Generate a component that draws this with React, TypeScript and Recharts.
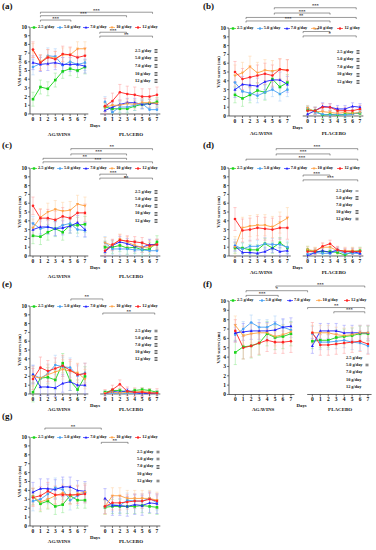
import React from 'react';
import { LineChart, Line, XAxis, YAxis, ErrorBar, ReferenceLine } from 'recharts';

const FONT = "'Liberation Serif', 'Times New Roman', serif";

const DOSES = ['2.5 g/day', '5.0 g/day', '7.0 g/day', '10 g/day', '12 g/day'];
const COLORS = ['#19d419', '#4aa3f5', '#1f1fff', '#ffa142', '#ff2424'];
const ERR_COLORS = ['#8ee88e', '#a5cff8', '#8f8fff', '#ffd09f', '#ff9a9a'];
const SHAPES = ['square', 'circle', 'triangle', 'tridown', 'circle'];
const DAYS = [0, 1, 2, 3, 4, 5, 6, 7];
const PLACEBO_SHIFT = 9.7;

// rows: 2.5, 5.0, 7.0, 10, 12 g/day ; columns: day 0..7
const aAgavins = [
  [1.7, 3.1, 2.9, 3.9, 4.9, 5.2, 5.0, 5.4],
  [5.4, 5.8, 6.7, 6.6, 5.6, 6.0, 5.7, 5.9],
  [5.9, 5.7, 5.8, 5.9, 5.7, 5.7, 5.7, 5.5],
  [7.3, 6.0, 6.6, 6.4, 6.8, 6.8, 7.5, 7.5],
  [7.4, 5.9, 6.5, 6.3, 6.9, 6.8, 6.5, 6.7],
];
const aPlacebo = [
  [0.8, 0.6, 0.6, 0.6, 0.9, 1.1, 1.2, 1.4],
  [1.4, 0.2, 0.8, 0.8, 1.0, 1.2, 0.5, 0.5],
  [0.4, 0.8, 1.1, 1.3, 1.3, 1.1, 1.2, 1.2],
  [0.8, 1.0, 1.0, 1.2, 1.1, 1.3, 1.3, 1.2],
  [0.9, 1.5, 2.5, 2.3, 2.2, 2.0, 2.0, 2.2],
];
const aAgavinsSd = [0.8, 0.9, 0.8, 0.8, 0.9];
const aPlaceboSd = [0.5, 0.6, 0.5, 0.5, 0.9];

const bAgavins = [
  [2.4, 2.0, 2.4, 2.9, 2.7, 4.2, 3.3, 3.8],
  [3.8, 2.8, 2.6, 2.3, 2.7, 3.0, 2.5, 3.0],
  [3.0, 3.6, 3.5, 3.4, 3.9, 4.1, 4.1, 3.6],
  [4.6, 4.9, 5.6, 4.9, 5.2, 5.1, 5.3, 5.2],
  [5.0, 4.2, 4.4, 4.6, 4.8, 4.6, 5.3, 5.2],
];
const bPlacebo = [
  [0.7, 0.6, 0.1, 0.2, 0.1, 0.2, 0.3, 0.3],
  [0.9, 0.4, 0.2, 0.1, 0.2, 0.1, 0.2, 0.4],
  [0.2, 0.6, 1.1, 1.0, 0.8, 0.8, 1.1, 1.0],
  [0.9, 0.5, 0.5, 0.4, 0.3, 0.4, 0.3, 0.4],
  [0.6, 0.6, 1.0, 1.0, 0.6, 0.6, 0.6, 0.8],
];
const bAgavinsSd = [0.9, 0.8, 0.9, 1.2, 1.2];
const bPlaceboSd = [0.4, 0.3, 0.4, 0.3, 0.4];

const cAgavins = [
  [2.3, 2.2, 2.7, 3.1, 2.7, 3.5, 3.5, 3.6],
  [3.7, 3.1, 3.3, 3.1, 3.5, 3.7, 3.0, 2.9],
  [3.0, 3.3, 3.3, 3.1, 3.2, 3.4, 3.8, 3.0],
  [3.2, 4.4, 5.0, 5.3, 5.1, 5.2, 5.9, 5.7],
  [5.7, 4.3, 4.3, 4.1, 4.5, 4.3, 4.9, 4.9],
];
const cPlacebo = [
  [1.0, 1.0, 1.2, 0.9, 1.0, 0.7, 0.8, 1.6],
  [1.5, 0.8, 0.8, 0.8, 0.7, 0.7, 0.6, 0.6],
  [0.5, 1.2, 1.6, 1.4, 1.1, 1.0, 1.3, 1.3],
  [1.5, 1.2, 1.9, 1.6, 1.2, 1.0, 1.0, 1.3],
  [0.6, 1.3, 1.8, 1.7, 1.6, 1.5, 1.2, 1.3],
];
const cAgavinsSd = [0.9, 0.8, 0.8, 1.0, 1.0];
const cPlaceboSd = [0.7, 0.7, 0.6, 0.6, 0.6];

const dAgavins = [
  [0.9, 0.9, 0.7, 0.7, 1.4, 0.9, 1.5, 0.9],
  [1.2, 0.8, 1.1, 1.1, 1.4, 1.3, 1.3, 1.0],
  [1.1, 0.4, 0.4, 0.3, 0.5, 0.9, 0.5, 0.6],
  [1.0, 3.2, 3.4, 3.5, 3.5, 3.3, 3.8, 4.3],
  [4.2, 2.9, 3.0, 3.2, 3.1, 3.0, 3.2, 3.2],
];
const dPlacebo = [
  [0.7, 0.5, 0.5, 0.5, 0.4, 0.1, 0.5, 0.6],
  [0.2, 0.4, 0.3, 0.3, 0.6, 0.3, 0.3, 0.3],
  [0.0, 0.4, 0.6, 0.4, 0.7, 0.5, 0.5, 0.3],
  [0.7, 0.6, 1.0, 1.0, 0.6, 0.6, 0.6, 0.5],
  [0.5, 0.5, 1.1, 1.4, 0.7, 0.5, 0.5, 0.5],
];
const dAgavinsSd = [0.6, 0.7, 0.5, 1.2, 1.3];
const dPlaceboSd = [0.4, 0.3, 0.3, 0.4, 0.4];

const eAgavins = [
  [0.2, 1.8, 1.9, 1.6, 3.5, 1.5, 0.5, 2.0],
  [2.2, 1.8, 2.3, 3.3, 3.1, 3.0, 2.1, 2.4],
  [2.2, 0.8, 0.8, 0.7, 1.2, 1.4, 1.0, 1.0],
  [2.0, 1.8, 2.2, 2.5, 2.8, 2.6, 2.4, 1.7],
  [1.7, 3.0, 2.6, 2.9, 3.2, 2.7, 2.2, 2.3],
];
const ePlacebo = [
  [0.2, 0.4, 0.4, 0.2, 0.4, 0.5, 0.4, 0.2],
  [0.1, 0.1, 0.0, 0.1, 0.1, 0.1, 0.1, 0.1],
  [0.0, 0.3, 0.2, 0.4, 0.2, 0.0, 0.1, 0.1],
  [0.1, 0.2, 0.1, 0.2, 0.2, 0.3, 0.2, 0.1],
  [0.0, 0.5, 1.1, 0.3, 0.2, 0.2, 0.1, 0.1],
];
const eAgavinsSd = [1.1, 1.1, 1.0, 1.1, 1.2];
const ePlaceboSd = [0.2, 0.2, 0.2, 0.2, 0.5];

const fAgavins = [
  [4.5, 5.1, 5.2, 5.5, 6.5, 6.1, 6.2, 6.5],
  [6.4, 7.0, 7.7, 7.2, 7.2, 7.6, 7.2, 6.9],
  [6.6, 6.7, 6.8, 6.8, 6.8, 6.9, 7.2, 7.3],
  [7.4, 6.3, 6.5, 6.6, 6.6, 6.2, 6.4, 6.7],
  [6.8, 5.0, 5.2, 5.5, 5.8, 5.6, 5.6, 5.7],
];
const fPlacebo = [
  [5.7, 5.8, 5.8, 6.1, 6.2, 6.3, 6.5, 6.5],
  [6.5, 5.6, 5.6, 5.7, 5.8, 5.6, 5.5, 5.2],
  [5.2, 6.8, 6.8, 6.8, 6.6, 6.6, 6.6, 6.6],
  [6.6, 6.6, 6.6, 6.4, 6.3, 6.4, 6.6, 6.6],
  [6.6, 5.3, 5.3, 5.4, 5.5, 5.6, 5.7, 5.4],
];
const fAgavinsSd = [1.3, 0.8, 0.9, 1.0, 1.2];
const fPlaceboSd = [0.8, 0.8, 0.8, 0.8, 1.1];

const gAgavins = [
  [3.3, 2.5, 2.8, 2.2, 2.4, 3.4, 2.9, 2.9],
  [2.8, 3.0, 3.6, 4.3, 4.1, 2.9, 3.4, 3.7],
  [3.8, 4.2, 4.2, 4.1, 4.4, 4.4, 4.0, 3.9],
  [3.3, 2.7, 3.0, 3.4, 3.7, 3.4, 3.6, 3.8],
  [3.2, 3.4, 3.9, 3.5, 3.5, 3.5, 3.5, 3.6],
];
const gPlacebo = [
  [2.1, 2.2, 2.2, 2.2, 2.2, 2.3, 2.2, 2.1],
  [2.2, 2.4, 2.3, 2.9, 2.8, 2.8, 3.1, 2.6],
  [3.1, 2.3, 2.3, 2.2, 2.4, 2.3, 2.6, 2.5],
  [2.2, 3.4, 3.4, 3.1, 3.1, 3.1, 3.1, 2.9],
  [2.2, 2.6, 2.6, 2.7, 2.8, 2.8, 3.0, 2.8],
];
const gAgavinsSd = [0.9, 1.1, 1.1, 1.0, 1.0];
const gPlaceboSd = [0.8, 0.8, 1.1, 0.9, 0.8];

// significance brackets: [from, to, level, stars] (x in day units, placebo shifted)
const aBrackets = [[1.0, 16.1, 11.7, '***'], [1.0, 12.6, 11.3, '***'], [1.0, 5.1, 10.8, '***'], [9.0, 12.6, 9.4, '***'], [9.0, 16.1, 8.95, '**']];
const bBrackets = [[5.25, 16.2, 12.3, '***'], [5.25, 12.7, 11.7, '***'], [1.47, 16.2, 11.2, '**'], [1.47, 12.7, 10.8, '***'], [9.1, 12.7, 9.6, '**'], [9.1, 16.2, 9.1, '*']];
const cBrackets = [[5.1, 16.1, 12.2, '**'], [5.1, 12.6, 11.6, '***'], [1.35, 12.6, 11.1, '**'], [1.35, 16.1, 10.7, '***'], [9.0, 12.6, 9.3, '***'], [9.0, 16.1, 8.85, 'ns']];
const dBrackets = [[5.5, 16.4, 12.2, '***'], [5.5, 12.7, 11.6, '***'], [1.47, 16.4, 11.0, '***'], [9.1, 12.7, 9.2, '***'], [9.1, 16.4, 8.65, '***']];
const eBrackets = [[5.1, 9.4, 10.8, '**'], [9.4, 16.4, 9.2, '**']];
const fBrackets = [[5.1, 16.3, 11.6, '***'], [1.35, 9.1, 11.1, '*'], [1.35, 5.4, 10.6, '***'], [9.1, 16.3, 9.3, '**'], [12.4, 16.3, 8.85, '***']];
const gBrackets = [[1.6, 9.2, 11.0, '**'], [9.2, 12.8, 9.4, '**']];

// number of stars shown beside each dose in the comparison notes
const aMarks = [3, 3, 3, 3, 3];
const bMarks = [3, 3, 3, 3, 3];
const cMarks = [3, 3, 3, 3, 3];
const dMarks = [1, 3, 0, 3, 2];
const eMarks = [2, 3, 3, 3, 3];
const fMarks = [0, 2, 0, 0, 0];
const gMarks = [2, 2, 3, 0, 2];

const LAYOUTS: any = {
  a: { axisX: 30, d0: 33, pl7: 157, y10: 27, y0: 114, labelX: 2, labelY: 2, groupDy: 20, noteX: 135, noteY: 51, noteStep: 7.6 },
  b: { axisX: 229, d0: 235, pl7: 360, y10: 28, y0: 116, labelX: 203, labelY: 2, groupDy: 17, noteX: 337, noteY: 52, noteStep: 7.5 },
  c: { axisX: 30, d0: 33, pl7: 157, y10: 168, y0: 256, labelX: 2, labelY: 141, groupDy: 20, noteX: 135, noteY: 192, noteStep: 7.2 },
  d: { axisX: 229, d0: 235, pl7: 360, y10: 168, y0: 256, labelX: 203, labelY: 141, groupDy: 16, noteX: 336, noteY: 191, noteStep: 7 },
  e: { axisX: 30, d0: 33, pl7: 157, y10: 306, y0: 394, labelX: 2, labelY: 280, groupDy: 15, noteX: 135, noteY: 331, noteStep: 7 },
  f: { axisX: 229, d0: 235.3, pl7: 368, y10: 300.5, y0: 394, labelX: 203, labelY: 280, groupDy: 15, noteX: 346, noteY: 358, noteStep: 7.3 },
  g: { axisX: 30, d0: 33, pl7: 157, y10: 437, y0: 526, labelX: 2, labelY: 412, groupDy: 15, noteX: 137, noteY: 452, noteStep: 7.3 },
};

const PANELS = [
  { id: 'a', ag: aAgavins, pl: aPlacebo, agSd: aAgavinsSd, plSd: aPlaceboSd, brackets: aBrackets, marks: aMarks },
  { id: 'b', ag: bAgavins, pl: bPlacebo, agSd: bAgavinsSd, plSd: bPlaceboSd, brackets: bBrackets, marks: bMarks },
  { id: 'c', ag: cAgavins, pl: cPlacebo, agSd: cAgavinsSd, plSd: cPlaceboSd, brackets: cBrackets, marks: cMarks },
  { id: 'd', ag: dAgavins, pl: dPlacebo, agSd: dAgavinsSd, plSd: dPlaceboSd, brackets: dBrackets, marks: dMarks },
  { id: 'e', ag: eAgavins, pl: ePlacebo, agSd: eAgavinsSd, plSd: ePlaceboSd, brackets: eBrackets, marks: eMarks },
  { id: 'f', ag: fAgavins, pl: fPlacebo, agSd: fAgavinsSd, plSd: fPlaceboSd, brackets: fBrackets, marks: fMarks },
  { id: 'g', ag: gAgavins, pl: gPlacebo, agSd: gAgavinsSd, plSd: gPlaceboSd, brackets: gBrackets, marks: gMarks },
];

const DAY_TICKS = [...DAYS, ...DAYS.map(d => PLACEBO_SHIFT + d)];
const Y_TICKS = [0, 1, 2, 3, 4, 5, 6, 7, 8, 9, 10];

function buildRows(ag: number[][], pl: number[][], agSd: number[], plSd: number[]) {
  const rows: any[] = [];
  DAYS.forEach((d, i) => {
    const r: any = { x: d };
    ag.forEach((s, k) => { r['v' + k] = s[i]; r['e' + k] = agSd[k]; });
    rows.push(r);
  });
  // empty row so the two groups are not joined
  rows.push({ x: 8.5, v0: null, v1: null, v2: null, v3: null, v4: null });
  DAYS.forEach((d, i) => {
    const r: any = { x: PLACEBO_SHIFT + d };
    pl.forEach((s, k) => { r['v' + k] = s[i]; r['e' + k] = plSd[k]; });
    rows.push(r);
  });
  return rows;
}

function Marker({ shape, color, cx, cy, r }: any) {
  if (shape === 'square') return <rect x={cx - r} y={cy - r} width={2 * r} height={2 * r} fill={color} />;
  if (shape === 'triangle')
    return <polygon points={`${cx},${cy - r * 1.25} ${cx - r * 1.15},${cy + r * 0.85} ${cx + r * 1.15},${cy + r * 0.85}`} fill={color} />;
  if (shape === 'tridown')
    return <polygon points={`${cx},${cy + r * 1.25} ${cx - r * 1.15},${cy - r * 0.85} ${cx + r * 1.15},${cy - r * 0.85}`} fill={color} />;
  return <circle cx={cx} cy={cy} r={r} fill={color} />;
}

const dotFor = (k: number) => (p: any) => {
  const key = `dot-${k}-${p.index}`;
  if (p.cx == null || p.cy == null || p.payload == null || p.payload['v' + k] == null) return <g key={key} />;
  return (
    <g key={key}>
      <Marker shape={SHAPES[k]} color={COLORS[k]} cx={p.cx} cy={p.cy} r={1.3} />
    </g>
  );
};

// stars printed sideways look like a small stack of dashes
function Stars({ n }: { n: number }) {
  const h = 6;
  return (
    <svg width={4} height={h} style={{ display: 'block', marginLeft: 2 }}>
      {Array.from({ length: n }).map((_, i) => (
        <line key={i} x1={0.5} x2={3.5} y1={h / 2 + (i - (n - 1) / 2) * 1.5} y2={h / 2 + (i - (n - 1) / 2) * 1.5} stroke="#222" strokeWidth={0.7} />
      ))}
    </svg>
  );
}

const textStyle: any = { position: 'absolute', fontFamily: FONT, fontWeight: 700, color: '#111', whiteSpace: 'nowrap', lineHeight: 1 };

function Panel({ panel }: any) {
  const L = LAYOUTS[panel.id];
  const scale = (L.pl7 - L.d0) / (PLACEBO_SHIFT + 7);
  const xMin = -(L.d0 - L.axisX) / scale;
  const xMax = PLACEBO_SHIFT + 7 + 0.45;
  const plotW = (xMax - xMin) * scale;
  const plotH = L.y0 - L.y10;
  const unit = plotH / 10;
  const YW = 22;
  const MT = 32;
  const XH = 9;
  const rows = buildRows(panel.ag, panel.pl, panel.agSd, panel.plSd);
  const px = (v: number) => L.d0 + v * scale;
  const tickDrop = 1.6 / unit;

  return (
    <>
      <div style={{ position: 'absolute', left: L.axisX - YW, top: L.y10 - MT }}>
        <LineChart
          width={YW + plotW + 4}
          height={MT + plotH + XH + 2}
          data={rows}
          margin={{ top: MT, right: 4, left: 0, bottom: 2 }}
        >
          <XAxis
            dataKey="x"
            type="number"
            domain={[xMin, xMax]}
            allowDataOverflow
            ticks={DAY_TICKS}
            interval={0}
            tickFormatter={(v: number) => String(v < 8 ? v : Math.round(v - PLACEBO_SHIFT))}
            axisLine={false}
            tickLine={{ stroke: '#222', strokeWidth: 0.6 }}
            tickSize={2}
            tickMargin={1}
            height={XH}
            tick={{ fontSize: 5.5, fill: '#111', fontFamily: FONT, fontWeight: 700 }}
          />
          <YAxis
            type="number"
            domain={[0, 10]}
            allowDataOverflow
            ticks={Y_TICKS}
            interval={0}
            width={YW}
            axisLine={{ stroke: '#222', strokeWidth: 0.7 }}
            tickLine={{ stroke: '#222', strokeWidth: 0.6 }}
            tickSize={2}
            tickMargin={1}
            tick={{ fontSize: 5.5, fill: '#111', fontFamily: FONT, fontWeight: 700 }}
            label={{ value: 'VAS scores (cm)', angle: -90, position: 'center', fontSize: 4.6, fill: '#111', fontFamily: FONT, fontWeight: 700 }}
          />
          <ReferenceLine segment={[{ x: xMin, y: 0 }, { x: 7.45, y: 0 }]} stroke="#222" strokeWidth={0.7} ifOverflow="visible" />
          <ReferenceLine segment={[{ x: 9.05, y: 0 }, { x: xMax, y: 0 }]} stroke="#222" strokeWidth={0.7} ifOverflow="visible" />
          {panel.brackets.map((b: any, i: number) => (
            <ReferenceLine
              key={`br-${i}`}
              segment={[{ x: b[0], y: b[2] }, { x: b[1], y: b[2] }]}
              stroke="#333"
              strokeWidth={0.5}
              ifOverflow="visible"
              label={{ value: b[3], position: 'top', offset: 0.5, fontSize: 4.5, fill: '#222', fontFamily: FONT, fontWeight: 700 }}
            />
          ))}
          {panel.brackets.map((b: any, i: number) => (
            <ReferenceLine key={`bl-${i}`} segment={[{ x: b[0], y: b[2] }, { x: b[0], y: b[2] - tickDrop }]} stroke="#333" strokeWidth={0.5} ifOverflow="visible" />
          ))}
          {panel.brackets.map((b: any, i: number) => (
            <ReferenceLine key={`brr-${i}`} segment={[{ x: b[1], y: b[2] }, { x: b[1], y: b[2] - tickDrop }]} stroke="#333" strokeWidth={0.5} ifOverflow="visible" />
          ))}
          {DOSES.map((dose, k) => (
            <Line
              key={dose}
              name={dose}
              dataKey={'v' + k}
              type="linear"
              stroke={COLORS[k]}
              strokeWidth={0.9}
              dot={dotFor(k)}
              activeDot={false}
              connectNulls={false}
              isAnimationActive={false}
            >
              <ErrorBar dataKey={'e' + k} direction="y" width={1.6} strokeWidth={0.5} stroke={ERR_COLORS[k]} />
            </Line>
          ))}
        </LineChart>
      </div>

      {/* legend row */}
      <div style={{ position: 'absolute', left: L.axisX + 1, top: L.y10 - 2.5, width: plotW, display: 'flex' }}>
        {DOSES.map((dose, k) => (
          <div key={dose} style={{ width: plotW / 5, display: 'flex', alignItems: 'center' }}>
            <svg width={6} height={5} style={{ display: 'block' }}>
              <line x1={0} y1={2.5} x2={6} y2={2.5} stroke={COLORS[k]} strokeWidth={0.7} />
              <Marker shape={SHAPES[k]} color={COLORS[k]} cx={3} cy={2.5} r={1.2} />
            </svg>
            <span style={{ fontFamily: FONT, fontWeight: 700, fontSize: 4.3, color: '#111', marginLeft: 1, whiteSpace: 'nowrap', lineHeight: 1 }}>{dose}</span>
          </div>
        ))}
      </div>

      {/* panel letter */}
      <div style={{ ...textStyle, left: L.labelX, top: L.labelY, fontSize: 9 }}>({panel.id})</div>

      {/* axis titles */}
      <div style={{ ...textStyle, left: px(8.35) - 10, width: 20, textAlign: 'center', top: L.y0 + 10, fontSize: 4.8 }}>Days</div>
      <div style={{ ...textStyle, left: px(3.5) - 20, width: 40, textAlign: 'center', top: L.y0 + L.groupDy - 2.5, fontSize: 5 }}>AGAVINS</div>
      <div style={{ ...textStyle, left: px(PLACEBO_SHIFT + 3.5) - 20, width: 40, textAlign: 'center', top: L.y0 + L.groupDy - 2.5, fontSize: 5 }}>PLACEBO</div>

      {/* dose comparison notes */}
      {DOSES.map((dose, k) => (
        <div key={'n' + dose} style={{ ...textStyle, left: L.noteX, top: L.noteY + k * L.noteStep - 3, fontSize: 4.3, display: 'flex', alignItems: 'center' }}>
          <span style={{ display: 'inline-block', width: 17 }}>{dose}</span>
          <Stars n={panel.marks[k]} />
        </div>
      ))}
    </>
  );
}

export default function App() {
  return (
    <div style={{ position: 'absolute', left: 0, top: 0, width: 376, height: 550, background: '#fff', overflow: 'hidden' }}>
      {PANELS.map(p => (
        <Panel key={p.id} panel={p} />
      ))}
    </div>
  );
}
